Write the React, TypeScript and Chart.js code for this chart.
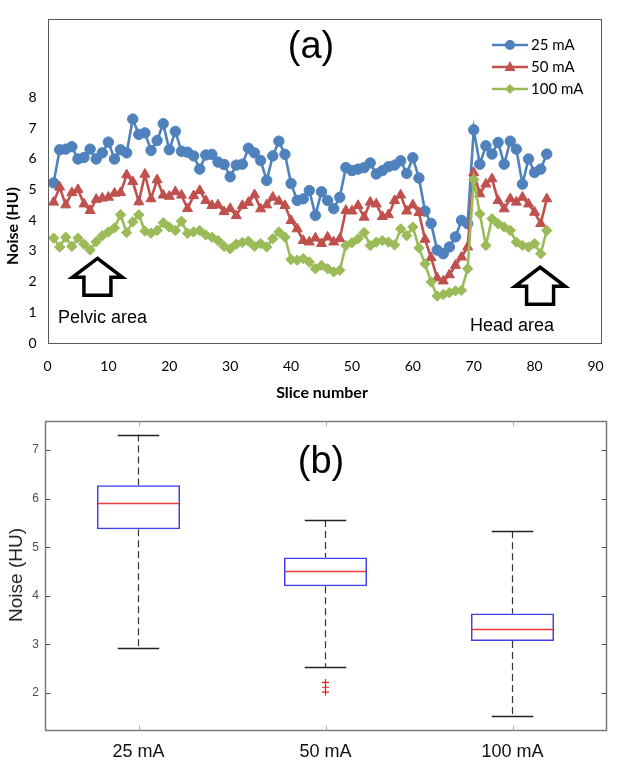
import React, { useEffect, useRef } from 'react';
import { Chart, registerables } from 'chart.js';

Chart.register(...registerables);

// ---------- Panel (a) data ----------
const slices = [
  1, 2, 3, 4, 5, 6, 7, 8, 9, 10, 11, 12, 13, 14, 15, 16, 17, 18, 19, 20,
  21, 22, 23, 24, 25, 26, 27, 28, 29, 30, 31, 32, 33, 34, 35, 36, 37, 38, 39, 40,
  41, 42, 43, 44, 45, 46, 47, 48, 49, 50, 51, 52, 53, 54, 55, 56, 57, 58, 59, 60,
  61, 62, 63, 64, 65, 66, 67, 68, 69, 70, 71, 72, 73, 74, 75, 76, 77, 78, 79, 80,
  81, 82,
];

const noise25 = [
  5.22, 6.3, 6.32, 6.4, 6.0, 6.05, 6.32, 6.0, 6.2, 6.55,
  6.0, 6.3, 6.2, 7.3, 6.8, 6.85, 6.28, 6.6, 7.15, 6.3,
  6.9, 6.25, 6.22, 6.1, 5.67, 6.13, 6.15, 5.9, 5.82, 5.42,
  5.8, 5.83, 6.35, 6.2, 5.95, 5.3, 6.1, 6.58, 6.15, 5.2,
  4.65, 4.7, 4.97, 4.16, 4.93, 4.65, 4.38, 4.75, 5.72, 5.62,
  5.67, 5.72, 5.87, 5.51, 5.62, 5.75, 5.8, 5.94, 5.53, 6.04,
  5.38, 4.3, 3.9, 3.03, 2.91, 3.13, 3.46, 4.0, 3.89, 6.95,
  5.83, 6.43, 6.16, 6.54, 5.83, 6.58, 6.32, 5.18, 6.0, 5.56,
  5.67, 6.16,
];

const noise50 = [
  4.59, 5.08, 4.5, 4.9, 5.0, 4.53, 4.32, 4.68, 4.72, 4.75,
  4.88, 4.9, 5.48, 5.26, 4.6, 5.5, 4.7, 5.32, 4.82, 4.78,
  4.93, 4.82, 4.38, 4.8, 4.97, 4.64, 4.48, 4.5, 4.28, 4.38,
  4.15, 4.48, 4.58, 4.83, 4.37, 4.5, 4.75, 4.62, 4.48, 3.99,
  3.72, 3.34, 3.29, 3.42, 3.24, 3.45, 3.29, 3.4, 4.32, 4.3,
  4.48, 4.1, 4.59, 4.53, 4.12, 4.18, 4.64, 4.82, 4.3, 4.5,
  4.25, 3.38, 2.78, 2.12, 2.02, 2.22, 2.53, 2.8, 3.13, 5.55,
  4.86, 5.18, 5.35, 4.64, 4.37, 4.7, 4.59, 4.75, 4.53, 4.26,
  3.89, 4.7,
];

const noise100 = [
  3.42, 3.13, 3.45, 3.15, 3.42, 3.22, 3.03, 3.3, 3.5, 3.62,
  3.75, 4.18, 3.6, 3.95, 4.18, 3.65, 3.58, 3.67, 3.92, 3.78,
  3.67, 3.97, 3.58, 3.62, 3.67, 3.52, 3.45, 3.34, 3.15, 3.07,
  3.22, 3.28, 3.32, 3.15, 3.24, 3.13, 3.4, 3.62, 3.45, 2.72,
  2.7, 2.75, 2.64, 2.42, 2.53, 2.42, 2.32, 2.37, 3.18, 3.27,
  3.4, 3.6, 3.18, 3.29, 3.34, 3.29, 3.2, 3.72, 3.5, 3.78,
  3.1, 2.58, 1.99, 1.53, 1.58, 1.64, 1.7, 1.72, 2.42, 5.33,
  4.21, 3.18, 4.05, 3.89, 3.78, 3.67, 3.29, 3.18, 3.13, 3.24,
  2.91, 3.67,
];

const seriesNames = ['25 mA', '50 mA', '100 mA'];
const xTickValues = [0, 10, 20, 30, 40, 50, 60, 70, 80, 90];
const yTickMaxLabel = 8;

// annotation anchors (data coordinates)
const arrowSlices = [8.2, 80.9];
const arrowTipNoise = [2.76, 2.47];
const areaLabels = ['Pelvic area', 'Head area'];

// ---------- Panel (b) data ----------
const boxLabels = ['25 mA', '50 mA', '100 mA'];
const boxMin = [2.92, 2.53, 1.53];
const boxQ1 = [5.37, 4.2, 3.07];
const boxMedian = [5.92, 4.52, 3.31];
const boxQ3 = [6.28, 4.79, 3.64];
const boxMax = [7.32, 5.56, 5.33];
const outlierGroup = '50 mA';
const outlierValues = [2.22, 2.12, 2.02];

// ---------- styles ----------
const COLORS = ['#4f81bd', '#c0504d', '#9bbb59'];
const POINT_STYLES = ['circle', 'triangle', 'rectRot'];
const POINT_RADII = [5.2, 5.8, 5.2];
const EXCEL_FONT = 'Lato, "Open Sans", sans-serif';
const ARIAL = '"Liberation Sans", Arial, sans-serif';

function drawMarker(ctx: CanvasRenderingContext2D, style: string, x: number, y: number, color: string) {
  ctx.save();
  ctx.fillStyle = color;
  ctx.beginPath();
  if (style === 'circle') {
    ctx.arc(x, y, 5, 0, Math.PI * 2);
  } else if (style === 'triangle') {
    ctx.moveTo(x, y - 6);
    ctx.lineTo(x + 5.5, y + 4);
    ctx.lineTo(x - 5.5, y + 4);
    ctx.closePath();
  } else {
    ctx.moveTo(x, y - 5);
    ctx.lineTo(x + 5, y);
    ctx.lineTo(x, y + 5);
    ctx.lineTo(x - 5, y);
    ctx.closePath();
  }
  ctx.fill();
  ctx.restore();
}

function drawUpArrow(ctx: CanvasRenderingContext2D, cx: number, tipY: number) {
  const headH = 19;
  const shaftH = 18;
  const headHalf = 25;
  const shaftHalf = 13.5;
  const baseY = tipY + headH;
  const botY = baseY + shaftH;
  ctx.save();
  ctx.beginPath();
  ctx.moveTo(cx, tipY);
  ctx.lineTo(cx + headHalf, baseY);
  ctx.lineTo(cx + shaftHalf, baseY);
  ctx.lineTo(cx + shaftHalf, botY);
  ctx.lineTo(cx - shaftHalf, botY);
  ctx.lineTo(cx - shaftHalf, baseY);
  ctx.lineTo(cx - headHalf, baseY);
  ctx.closePath();
  ctx.fillStyle = '#ffffff';
  ctx.fill();
  ctx.lineWidth = 3.5;
  ctx.lineJoin = 'miter';
  ctx.strokeStyle = '#000000';
  ctx.stroke();
  ctx.restore();
}

const topDecor = {
  id: 'topDecor',
  afterDraw(chart: any) {
    const { ctx, chartArea } = chart;
    const xs = chart.scales.x;
    const ys = chart.scales.y;
    ctx.save();
    // frame
    ctx.strokeStyle = '#595959';
    ctx.lineWidth = 1;
    ctx.strokeRect(
      Math.round(chartArea.left) + 0.5,
      Math.round(chartArea.top) + 0.5,
      Math.round(chartArea.right + 5 - chartArea.left),
      Math.round(chartArea.bottom - chartArea.top)
    );
    // title (a)
    ctx.fillStyle = '#000';
    ctx.font = `38px ${ARIAL}`;
    ctx.textAlign = 'center';
    ctx.textBaseline = 'middle';
    ctx.fillText('(a)', 311, 48);
    // legend
    const legendY = [45, 67, 89];
    seriesNames.forEach((name, i) => {
      const y = legendY[i];
      ctx.strokeStyle = COLORS[i];
      ctx.lineWidth = 2.5;
      ctx.beginPath();
      ctx.moveTo(492, y);
      ctx.lineTo(528, y);
      ctx.stroke();
      drawMarker(ctx, POINT_STYLES[i], 510, y, COLORS[i]);
      ctx.fillStyle = '#000';
      ctx.font = `15px ${EXCEL_FONT}`;
      ctx.textAlign = 'left';
      ctx.textBaseline = 'middle';
      ctx.fillText(name, 531, y);
    });
    // arrows
    arrowSlices.forEach((s, i) => {
      drawUpArrow(ctx, xs.getPixelForValue(s), ys.getPixelForValue(arrowTipNoise[i]));
    });
    // area labels
    ctx.fillStyle = '#000';
    ctx.font = `18px ${ARIAL}`;
    ctx.textAlign = 'left';
    ctx.textBaseline = 'middle';
    ctx.fillText(areaLabels[0], 58, 318);
    ctx.fillText(areaLabels[1], 470, 326);
    // axis titles
    ctx.font = `bold 16px ${EXCEL_FONT}`;
    ctx.textAlign = 'center';
    ctx.fillText('Slice number', 322, 393);
    ctx.save();
    ctx.translate(13, 226);
    ctx.rotate(-Math.PI / 2);
    ctx.fillText('Noise (HU)', 0, 0);
    ctx.restore();
    ctx.restore();
  },
};

const botDecor = {
  id: 'botDecor',
  afterDatasetsDraw(chart: any) {
    const { ctx } = chart;
    const xs = chart.scales.x;
    const ys = chart.scales.y;
    const meta = chart.getDatasetMeta(0);
    ctx.save();
    boxLabels.forEach((_, i) => {
      const cx = xs.getPixelForValue(i);
      const bw = meta.data[i] ? meta.data[i].width : 83;
      const capHalf = bw * 0.25;
      // whiskers (dashed)
      ctx.strokeStyle = '#333333';
      ctx.lineWidth = 1.2;
      ctx.setLineDash([7, 4]);
      ctx.beginPath();
      ctx.moveTo(cx, ys.getPixelForValue(boxMax[i]));
      ctx.lineTo(cx, ys.getPixelForValue(boxQ3[i]));
      ctx.moveTo(cx, ys.getPixelForValue(boxQ1[i]));
      ctx.lineTo(cx, ys.getPixelForValue(boxMin[i]));
      ctx.stroke();
      ctx.setLineDash([]);
      // caps
      ctx.strokeStyle = '#222222';
      ctx.lineWidth = 1.5;
      ctx.beginPath();
      const yMax = Math.round(ys.getPixelForValue(boxMax[i])) + 0.5;
      const yMin = Math.round(ys.getPixelForValue(boxMin[i])) + 0.5;
      ctx.moveTo(cx - capHalf, yMax);
      ctx.lineTo(cx + capHalf, yMax);
      ctx.moveTo(cx - capHalf, yMin);
      ctx.lineTo(cx + capHalf, yMin);
      ctx.stroke();
      // median
      ctx.strokeStyle = '#f03a3a';
      ctx.lineWidth = 1.3;
      const ym = Math.round(ys.getPixelForValue(boxMedian[i])) + 0.5;
      ctx.beginPath();
      ctx.moveTo(cx - bw / 2 + 1, ym);
      ctx.lineTo(cx + bw / 2 - 1, ym);
      ctx.stroke();
    });
    ctx.restore();
  },
  afterDraw(chart: any) {
    const { ctx, chartArea } = chart;
    const xs = chart.scales.x;
    const ys = chart.scales.y;
    const L = Math.round(chartArea.left) + 0.5;
    const R = Math.round(chartArea.right) + 0.5;
    const T = Math.round(chartArea.top) + 0.5;
    const B = Math.round(chartArea.bottom) + 0.5;
    ctx.save();
    ctx.strokeStyle = '#7a7a7a';
    ctx.lineWidth = 1.5;
    ctx.strokeRect(L, T, R - L, B - T);
    // inner ticks
    ctx.lineWidth = 1;
    ctx.strokeStyle = '#555555';
    ctx.beginPath();
    for (let v = 2; v <= 7; v++) {
      const y = Math.round(ys.getPixelForValue(v)) + 0.5;
      ctx.moveTo(L, y);
      ctx.lineTo(L + 5, y);
      ctx.moveTo(R - 5, y);
      ctx.lineTo(R, y);
    }
    ctx.stroke();
    ctx.strokeStyle = '#aaaaaa';
    ctx.beginPath();
    boxLabels.forEach((_, i) => {
      const x = Math.round(xs.getPixelForValue(i)) + 0.5;
      ctx.moveTo(x, T);
      ctx.lineTo(x, T + 5);
      ctx.moveTo(x, B - 5);
      ctx.lineTo(x, B);
    });
    ctx.stroke();
    // title (b)
    ctx.fillStyle = '#000';
    ctx.font = `38px ${ARIAL}`;
    ctx.textAlign = 'center';
    ctx.textBaseline = 'middle';
    ctx.fillText('(b)', 321, 63);
    // y title
    ctx.fillStyle = '#262626';
    ctx.font = `19px ${ARIAL}`;
    ctx.save();
    ctx.translate(17, 175);
    ctx.rotate(-Math.PI / 2);
    ctx.fillText('Noise (HU)', 0, 0);
    ctx.restore();
    ctx.restore();
  },
};

function topConfig(): any {
  const allSeries = [noise25, noise50, noise100];
  return {
    type: 'line',
    data: {
      datasets: allSeries.map((vals, k) => ({
        label: seriesNames[k],
        data: slices.map((s, i) => ({ x: s, y: vals[i] })),
        borderColor: COLORS[k],
        backgroundColor: COLORS[k],
        pointBackgroundColor: COLORS[k],
        pointBorderColor: COLORS[k],
        pointBorderWidth: 1,
        pointStyle: POINT_STYLES[k],
        pointRadius: POINT_RADII[k],
        borderWidth: 2.6,
        tension: 0,
        fill: false,
        order: 3 - k,
      })),
    },
    options: {
      responsive: false,
      animation: false,
      events: [],
      layout: { padding: { left: 0, top: 18, right: 37.5, bottom: 0 } },
      plugins: { legend: { display: false }, tooltip: { enabled: false } },
      scales: {
        x: {
          type: 'linear',
          min: xTickValues[0],
          max: xTickValues[xTickValues.length - 1],
          afterBuildTicks: (s: any) => {
            s.ticks = xTickValues.map((v) => ({ value: v }));
          },
          ticks: {
            autoSkip: false,
            maxRotation: 0,
            padding: 15,
            color: '#000',
            font: { family: EXCEL_FONT, size: 14 },
          },
          grid: { display: false, drawTicks: false },
          border: { display: false },
          afterFit: (s: any) => {
            s.height = 67;
          },
        },
        y: {
          type: 'linear',
          min: 0,
          max: 10.55,
          ticks: {
            stepSize: 1,
            padding: 11,
            color: '#000',
            font: { family: EXCEL_FONT, size: 14 },
            callback: (v: any) => (Number.isInteger(v) && v <= yTickMaxLabel ? String(v) : ''),
          },
          grid: { display: false, drawTicks: false },
          border: { display: false },
          afterFit: (s: any) => {
            s.width = 47.5;
          },
        },
      },
    },
    plugins: [topDecor],
  };
}

function botConfig(): any {
  return {
    type: 'bar',
    data: {
      labels: boxLabels,
      datasets: [
        {
          type: 'bar',
          label: 'IQR',
          data: boxQ1.map((q, i) => [q, boxQ3[i]]),
          backgroundColor: 'rgba(0,0,0,0)',
          borderColor: '#4040ee',
          borderWidth: 1.5,
          borderSkipped: false,
          barPercentage: 0.444,
          categoryPercentage: 1,
        },
        {
          type: 'line',
          label: 'Outliers',
          data: outlierValues.map((v) => ({ x: outlierGroup, y: v })),
          showLine: false,
          pointStyle: 'cross',
          pointRadius: 3.5,
          pointBorderColor: '#e02020',
          pointBorderWidth: 1.2,
          borderColor: '#e02020',
        },
      ],
    },
    options: {
      responsive: false,
      animation: false,
      events: [],
      layout: { padding: { left: 0, top: 21, right: 27, bottom: 0 } },
      plugins: { legend: { display: false }, tooltip: { enabled: false } },
      scales: {
        x: {
          type: 'category',
          offset: true,
          ticks: {
            padding: 11,
            color: '#111',
            font: { family: ARIAL, size: 18 },
          },
          grid: { display: false, drawTicks: false },
          border: { display: false },
          afterFit: (s: any) => {
            s.height = 44;
          },
        },
        y: {
          type: 'linear',
          min: 1.24,
          max: 7.6,
          ticks: {
            stepSize: 1,
            padding: 6,
            color: '#4d4d4d',
            font: { family: ARIAL, size: 12 },
            callback: (v: any) => (Number.isInteger(v) ? String(v) : ''),
          },
          grid: { display: false, drawTicks: false },
          border: { display: false },
          afterFit: (s: any) => {
            s.width = 45;
          },
        },
      },
    },
    plugins: [botDecor],
  };
}

export default function App() {
  const topRef = useRef<HTMLCanvasElement>(null);
  const botRef = useRef<HTMLCanvasElement>(null);

  useEffect(() => {
    const c1 = new Chart(topRef.current as HTMLCanvasElement, topConfig());
    const c2 = new Chart(botRef.current as HTMLCanvasElement, botConfig());
    return () => {
      c1.destroy();
      c2.destroy();
    };
  }, []);

  return (
    <div style={{ position: 'absolute', left: 0, top: 0, width: 633, height: 774, background: '#ffffff' }}>
      <canvas
        ref={topRef}
        width={633}
        height={410}
        style={{ position: 'absolute', left: 0, top: 0, width: 633, height: 410 }}
      />
      <canvas
        ref={botRef}
        width={633}
        height={374}
        style={{ position: 'absolute', left: 0, top: 400, width: 633, height: 374 }}
      />
    </div>
  );
}
